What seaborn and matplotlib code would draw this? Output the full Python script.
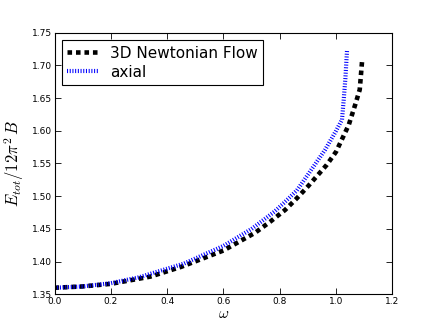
import matplotlib
matplotlib.use('Agg')
import matplotlib.pyplot as plt
import seaborn as sns
import pandas as pd

# Curva 3D Newtonian Flow
newton_w = [0.0, 0.1, 0.2, 0.34, 0.45, 0.6, 0.712, 0.766, 0.819, 0.861, 0.9,
            0.967, 1.0, 1.045, 1.068, 1.084, 1.092]
newton_E = [1.360, 1.362, 1.366, 1.377, 1.392, 1.417, 1.444, 1.461, 1.479, 1.497,
            1.515, 1.548, 1.568, 1.609, 1.640, 1.663, 1.705]

# Curva axial
axial_w = [0.0, 0.1, 0.2, 0.3, 0.46, 0.6, 0.70, 0.78, 0.813, 0.861, 0.9, 0.961,
           1.0, 1.021, 1.027, 1.033, 1.039]
axial_E = [1.360, 1.362, 1.367, 1.376, 1.397, 1.424, 1.450, 1.476, 1.489, 1.509,
           1.533, 1.571, 1.600, 1.617, 1.647, 1.680, 1.724]

x_ticks = [0.0, 0.2, 0.4, 0.6, 0.8, 1.0, 1.2]
y_ticks = [1.35, 1.40, 1.45, 1.50, 1.55, 1.60, 1.65, 1.70, 1.75]

sns.set_style('white', rc={
    'xtick.direction': 'in', 'ytick.direction': 'in',
    'xtick.top': True, 'ytick.right': True,
    'xtick.bottom': True, 'ytick.left': True,
    'axes.edgecolor': 'black', 'axes.linewidth': 0.8,
    'text.color': 'black', 'axes.labelcolor': 'black',
    'xtick.color': 'black', 'ytick.color': 'black',
})
plt.rcParams['font.family'] = ['DejaVu Sans']
plt.rcParams['mathtext.fontset'] = 'cm'

df_n = pd.DataFrame({'w': newton_w, 'E': newton_E})
df_a = pd.DataFrame({'w': axial_w, 'E': axial_E})

fig, ax = plt.subplots(figsize=(4.36, 3.27), dpi=100)
fig.subplots_adjust(left=0.125, right=0.9, top=0.9, bottom=0.1)

sns.lineplot(data=df_n, x='w', y='E', ax=ax, sort=False, estimator=None,
             color='black', lw=3.3, ls=(0, (1, 0.85)), label='3D Newtonian Flow')
sns.lineplot(data=df_a, x='w', y='E', ax=ax, sort=False, estimator=None,
             color='#0000ff', lw=3, ls=(0, (0.25, 0.4)), label='axial')

ax.set_xlim(0, 1.2)
ax.set_ylim(1.35, 1.75)
ax.set_xticks(x_ticks)
ax.set_yticks(y_ticks)
ax.set_xticklabels(['%.1f' % v for v in x_ticks])
ax.set_yticklabels(['%.2f' % v for v in y_ticks])
ax.tick_params(labelsize=6.5, length=4, width=0.6, pad=2)

ax.set_xlabel(r'$\omega$', fontsize=11, labelpad=0)
ax.set_ylabel(r'$E_{tot}/12\pi^2\,B$', fontsize=12, labelpad=4)

leg = ax.legend(loc='upper left', fontsize=11, fancybox=False, framealpha=1,
                edgecolor='black', handlelength=2.0, borderaxespad=0.5,
                borderpad=0.35, labelspacing=0.25, handletextpad=0.8)
leg.get_frame().set_linewidth(0.8)

plt.savefig('out.png', dpi=100)
